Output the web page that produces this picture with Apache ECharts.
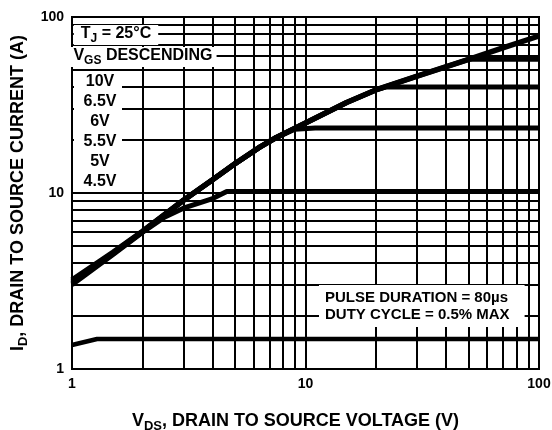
<!DOCTYPE html>
<html>
<head>
<meta charset="utf-8">
<script src="https://cdn.jsdelivr.net/npm/echarts@6/dist/echarts.min.js"></script>
<style>
  html, body { margin: 0; background: #fff; }
  #chart { width: 552px; height: 430px; }
</style>
</head>
<body>
<div id="chart"></div>
<script>
// grid lines of the log-log paper (both axes 1..100)
const gridValues = [2, 3, 4, 5, 6, 7, 8, 9, 10, 20, 30, 40, 50, 60, 70, 80, 90]

// curves, V_GS descending
const vds10V = [1, 1.5, 2, 3, 4, 5, 6.4, 7.5, 10, 15, 20, 31, 50, 70, 100]
const id10V = [3.2, 4.6, 6.05, 9.1, 11.9, 14.7, 18.3, 20.7, 25, 32.7, 38.5, 46.8, 57.5, 66.7, 78]
const vds65V = [1, 1.5, 2, 3, 4, 5, 6.4, 7.5, 10, 15, 20, 31, 50, 100]
const id65V = [3.16, 4.57, 6.03, 9.1, 11.9, 14.7, 18.3, 20.7, 25, 32.7, 38.5, 46.8, 57.5, 57.5]
const vds6V = [1, 1.5, 2, 3, 4, 5, 6.4, 7.5, 10, 15, 20, 22, 100]
const id6V = [3.12, 4.55, 6.02, 9.1, 11.9, 14.7, 18.3, 20.7, 25, 32.7, 38.5, 40, 40]
const vds55V = [1, 1.5, 2, 3, 4, 5, 6.4, 7.5, 9, 11, 100]
const id55V = [3.07, 4.52, 6, 9.05, 11.9, 14.7, 18.3, 20.6, 23, 23.4, 23.4]
const vds5V = [1, 1.5, 2, 2.5, 3, 4, 4.6, 100]
const id5V = [3.01, 4.48, 5.97, 7.3, 8.2, 9.3, 10.2, 10.2]
const vds45V = [1, 1.28, 100]
const id45V = [1.37, 1.48, 1.48]

const vgsLabels = ['10V', '6.5V', '6V', '5.5V', '5V', '4.5V']

const font = '"Liberation Sans", Arial, sans-serif'

const zip = (xs, ys) => xs.map((x, i) => [x, ys[i]])

function curve(name, xs, ys, width) {
  return {
    name: name,
    type: 'line',
    data: zip(xs, ys),
    showSymbol: false,
    z: 3,
    lineStyle: { color: '#000', width: width, join: 'round', cap: 'butt' },
    silent: true,
  }
}

// rich styles for subscripts
const titleRich = {
  m: { fontSize: 18, fontWeight: 'bold', fontFamily: font, color: '#000', lineHeight: 20, verticalAlign: 'top' },
  s: { fontSize: 13, fontWeight: 'bold', fontFamily: font, color: '#000', lineHeight: 14, padding: [8, 0, 0, 0], verticalAlign: 'top' },
}
const noteRich = {
  m: { fontSize: 16, fontWeight: 'bold', fontFamily: font, fill: '#000', lineHeight: 18, verticalAlign: 'top' },
  s: { fontSize: 12, fontWeight: 'bold', fontFamily: font, fill: '#000', lineHeight: 12, padding: [7, 0, 0, 0], verticalAlign: 'top' },
}

const axisCommon = {
  type: 'log',
  logBase: 10,
  min: 1,
  max: 100,
  nameLocation: 'middle',
  axisLine: { show: true, lineStyle: { color: '#000', width: 2 } },
  axisTick: { show: false },
  splitLine: { show: false },
  axisLabel: { color: '#000', fontSize: 14, fontWeight: 'bold', fontFamily: font, margin: 8 },
}

const series = [
  curve('4.5V', vds45V, id45V, 4.5),
  curve('5V', vds5V, id5V, 5),
  curve('5.5V', vds55V, id55V, 5),
  curve('6V', vds6V, id6V, 5),
  curve('6.5V', vds65V, id65V, 5),
  curve('10V', vds10V, id10V, 5.5),
]

series[0].markLine = {
  z: 1,
  silent: true,
  animation: false,
  symbol: 'none',
  label: { show: false },
  lineStyle: { color: '#000', width: 2, type: 'solid' },
  data: gridValues.map(v => ({ xAxis: v })).concat(gridValues.map(v => ({ yAxis: v }))),
}

const graphics = [
  {
    type: 'text', x: 116, y: 35, z: 20,
    style: {
      text: '{m|T}{s|J}{m| = 25°C}', rich: noteRich,
      align: 'center', verticalAlign: 'middle',
      backgroundColor: '#fff', padding: [1, 7, 1, 7],
    },
  },
  {
    type: 'text', x: 143, y: 57, z: 20,
    style: {
      text: '{m|V}{s|GS}{m| DESCENDING}', rich: noteRich,
      align: 'center', verticalAlign: 'middle',
      backgroundColor: '#fff', padding: [1, 4, 1, 4],
    },
  },
  { type: 'rect', z: 19, shape: { x: 74, y: 71, width: 48, height: 119 }, style: { fill: '#fff' } },
  {
    type: 'text', x: 319, y: 285, z: 20,
    style: {
      text: 'PULSE DURATION = 80µs\nDUTY CYCLE = 0.5% MAX',
      fontSize: 15, fontWeight: 'bold', fontFamily: font, fill: '#000', lineHeight: 17,
      align: 'left', verticalAlign: 'top',
      backgroundColor: '#fff', padding: [4, 15, 4, 6],
    },
  },
].concat(vgsLabels.map((t, i) => ({
  type: 'text', x: 100, y: 82 + i * 20, z: 20,
  style: {
    text: t, fontSize: 16, fontWeight: 'bold', fontFamily: font, fill: '#000',
    align: 'center', verticalAlign: 'middle',
  },
})))

const chart = echarts.init(document.getElementById('chart'), null, { renderer: 'canvas' })
chart.setOption({
  animation: false,
  backgroundColor: '#fff',
  grid: {
    left: 72, right: 13, top: 17, bottom: 61,
    outerBoundsMode: 'none', containLabel: false,
    show: true, borderColor: '#000', borderWidth: 2,
  },
  xAxis: Object.assign({}, axisCommon, {
    name: '{m|V}{s|DS}{m|, DRAIN TO SOURCE VOLTAGE (V)}',
    nameGap: 43,
    nameTextStyle: { rich: titleRich, padding: [0, 20, 0, 0] },
  }),
  yAxis: Object.assign({}, axisCommon, {
    name: '{m|I}{s|D}{m|, DRAIN TO SOURCE CURRENT (A)}',
    nameGap: 43,
    nameTextStyle: { rich: titleRich },
  }),
  graphic: graphics,
  series: series,
})
</script>
</body>
</html>
